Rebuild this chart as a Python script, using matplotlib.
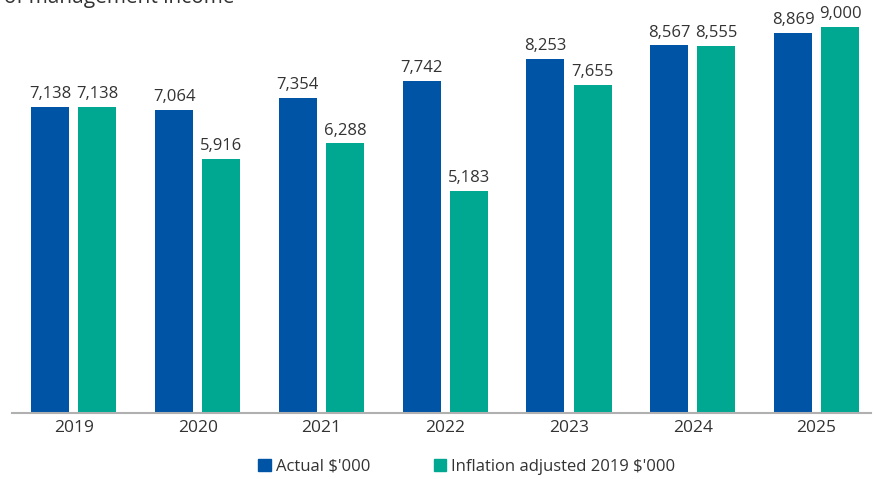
import matplotlib.pyplot as plt
import numpy as np
from matplotlib.patches import Patch

plt.rcParams['font.family'] = ['Open Sans', 'DejaVu Sans']

years = ['2019', '2020', '2021', '2022', '2023', '2024', '2025']
actual = [7138, 7064, 7354, 7742, 8253, 8567, 8869]
adjusted = [7138, 5916, 6288, 5183, 7655, 8555, 9000]

blue = '#0054a6'
teal = '#00a892'
text_col = '#333333'

fig = plt.figure(figsize=(8.76, 4.79), dpi=100)
ax = fig.add_axes([12 / 876, 66 / 479, 859 / 876, 413 / 479])

x = np.arange(len(years))
w = 0.307
off = 0.19
b1 = ax.bar(x - off, actual, w, color=blue)
b2 = ax.bar(x + off, adjusted, w, color=teal)

for bars, vals in ((b1, actual), (b2, adjusted)):
    for rect, v in zip(bars, vals):
        ax.text(rect.get_x() + rect.get_width() / 2, v + 110, f'{v:,}',
                ha='center', va='bottom', fontsize=12, color=text_col)

ax.set_xlim(-0.5, 6.44)
ax.set_ylim(0, 9627)
ax.set_xticks(x)
ax.set_xticklabels(years, fontsize=12.5, color=text_col)
ax.tick_params(axis='x', length=0, pad=5)
ax.set_yticks([])
for s in ('top', 'right', 'left'):
    ax.spines[s].set_visible(False)
ax.spines['bottom'].set_color('#b0b0b0')
ax.spines['bottom'].set_linewidth(1.5)

# title sits mostly above the top edge
fig.text(235 / 876, 1 - 3 / 479, 'Growth of management income', ha='right',
         va='baseline', fontsize=15, color=text_col)

handles = [Patch(color=blue, label="Actual $'000"),
           Patch(color=teal, label="Inflation adjusted 2019 $'000")]
fig.legend(handles=handles, loc='center', bbox_to_anchor=(0.533, 0.026),
           ncol=2, frameon=False, fontsize=12, handlelength=0.75,
           handleheight=0.75, handletextpad=0.3, columnspacing=3.8,
           labelcolor=text_col)

fig.savefig('out.png', dpi=100)
